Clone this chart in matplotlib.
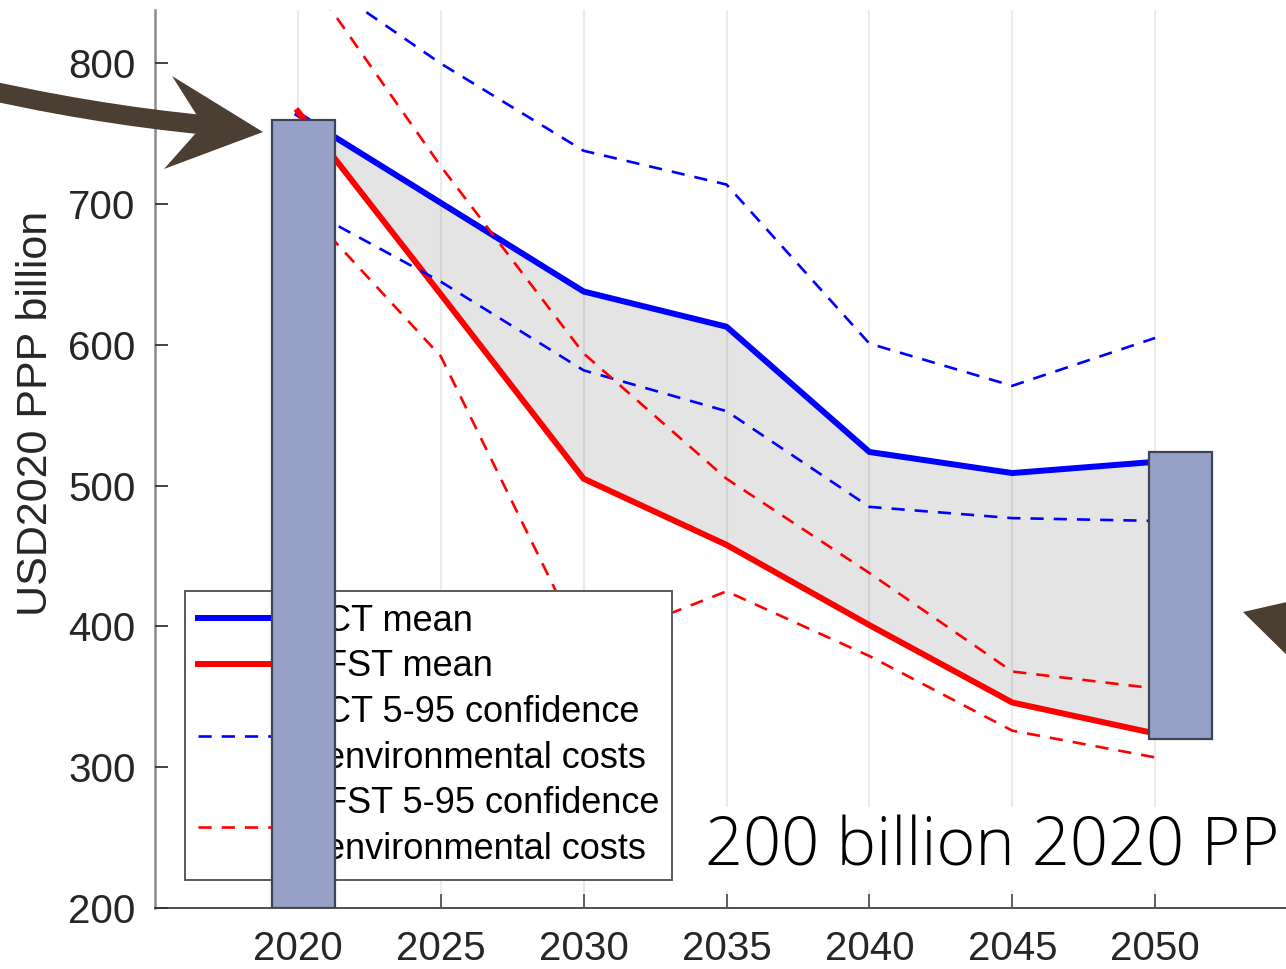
import matplotlib
matplotlib.use("Agg")
import matplotlib.pyplot as plt
import matplotlib.transforms as mtransforms
from matplotlib.path import Path
from matplotlib.patches import PathPatch, Polygon

# values (USD2020 PPP billion)
years = [2020, 2025, 2030, 2035, 2040, 2045, 2050]
ct_mean = [764, 701, 638, 613, 524, 509, 517]
fst_mean = [766, 636, 505, 458, 401, 346, 324]
ct_low = [700, 645, 582, 553, 485, 477, 475]
ct_high = [870, 800, 738, 714, 601, 571, 605]
fst_low = [702, 592, 385, 425, 379, 326, 307]
fst_high = [872, 727, 594, 505, 438, 368, 356]

# overlay bars marking start level and the 2050 gap
bar_x = [2020.2, 2050.9]
bar_low = [200, 320]
bar_high = [760, 524]

labels = ["CT mean", "FST mean",
          "CT 5-95 confidence\nenvironmental costs",
          "FST 5-95 confidence\nenvironmental costs"]
xticks = [2020, 2025, 2030, 2035, 2040, 2045, 2050]
yticks = [200, 300, 400, 500, 600, 700, 800]
note = "200 billion 2020 PPP"

W, H = 1286, 969
plt.rcParams['font.family'] = ['Liberation Sans', 'DejaVu Sans']

fig = plt.figure(figsize=(W / 100, H / 100), dpi=100)
ax = fig.add_axes([155 / W, 61 / H, 1143 / W, 898 / H])

ax.fill_between(years, fst_mean, ct_mean, color='#e4e4e4', lw=0, zorder=1)
ax.plot(years, ct_mean, color='#0000ff', lw=4.3, zorder=3, label=labels[0])
ax.plot(years, fst_mean, color='#ff0000', lw=4.3, zorder=3, label=labels[1])
ax.plot(years, ct_high, color='#0000ff', lw=1.9, dashes=(5.0, 3.8), zorder=3,
        label=labels[2])
ax.plot(years, ct_low, color='#0000ff', lw=1.9, dashes=(5.0, 3.8), zorder=3)
ax.plot(years, fst_high, color='#ff0000', lw=1.9, dashes=(5.0, 3.8), zorder=3,
        label=labels[3])
ax.plot(years, fst_low, color='#ff0000', lw=1.9, dashes=(5.0, 3.8), zorder=3)

ax.set_xlim(2015, 2055)
ax.set_ylim(200, 838)
ax.set_xticks(xticks)
ax.set_yticks(yticks)
ax.grid(axis='x', color='black', alpha=0.08, lw=1.6)
ax.set_axisbelow(False)
for s in ['top', 'right']:
    ax.spines[s].set_visible(False)
ax.spines['left'].set_color('#8a8a8a')
ax.spines['left'].set_linewidth(1.8)
ax.spines['bottom'].set_color('#404040')
ax.spines['bottom'].set_linewidth(1.3)
ax.tick_params(axis='y', direction='in', length=9, width=1.3, color='#333333',
               labelsize=29, labelcolor='#262626', pad=14)
ax.tick_params(axis='x', direction='in', length=10, width=1.3, color='#555555',
               labelsize=29, labelcolor='#262626', pad=16)

ax.set_ylabel("USD2020 PPP billion", fontsize=31, color='#262626', va='center')
ax.yaxis.set_label_coords(-0.104, 0.551)

leg = ax.legend(loc='upper left', bbox_to_anchor=(185 / W, 1 - 591 / H),
                bbox_transform=fig.transFigure, borderaxespad=0,
                fontsize=26, handlelength=2.8, handletextpad=0.72,
                borderpad=0.36, labelspacing=0.29, fancybox=False,
                framealpha=1, edgecolor='#5a5a5a')
leg.get_frame().set_linewidth(1.4)
for t in leg.get_texts():
    t.set_linespacing(1.4)

ax.bar(bar_x, [h - l for h, l in zip(bar_high, bar_low)], bottom=bar_low,
       width=2.2, color='#97a0c6', edgecolor='#3e4358', linewidth=1.6,
       zorder=6)

ax.text(2034.25, 230, note, fontsize=48, family=['Open Sans', 'DejaVu Sans'],
        fontweight=300, color='black', va='baseline', ha='left',
        clip_on=False, zorder=4,
        bbox=dict(boxstyle='square,pad=0.12', fc='white', ec='none'))

# brown pointer arrows (pixel geometry, y measured from the top)
brown = '#4b3e33'
px = mtransforms.Affine2D().scale(1, -1).translate(0, H)
shaft = PathPatch(Path([(-40, 84), (90, 114), (206, 125)],
                       [Path.MOVETO, Path.CURVE3, Path.CURVE3]),
                  fc='none', ec=brown, lw=14, capstyle='butt',
                  transform=px, zorder=10)
head = Polygon([(263, 132), (172, 76), (203, 125), (164, 169)], closed=True,
               fc=brown, ec='none', transform=px, zorder=10)
head2 = Polygon([(1243, 612), (1300, 599), (1300, 668)], closed=True,
                fc=brown, ec='none', transform=px, zorder=10)
for p in (shaft, head, head2):
    fig.add_artist(p)

fig.savefig('out.png', dpi=100)
